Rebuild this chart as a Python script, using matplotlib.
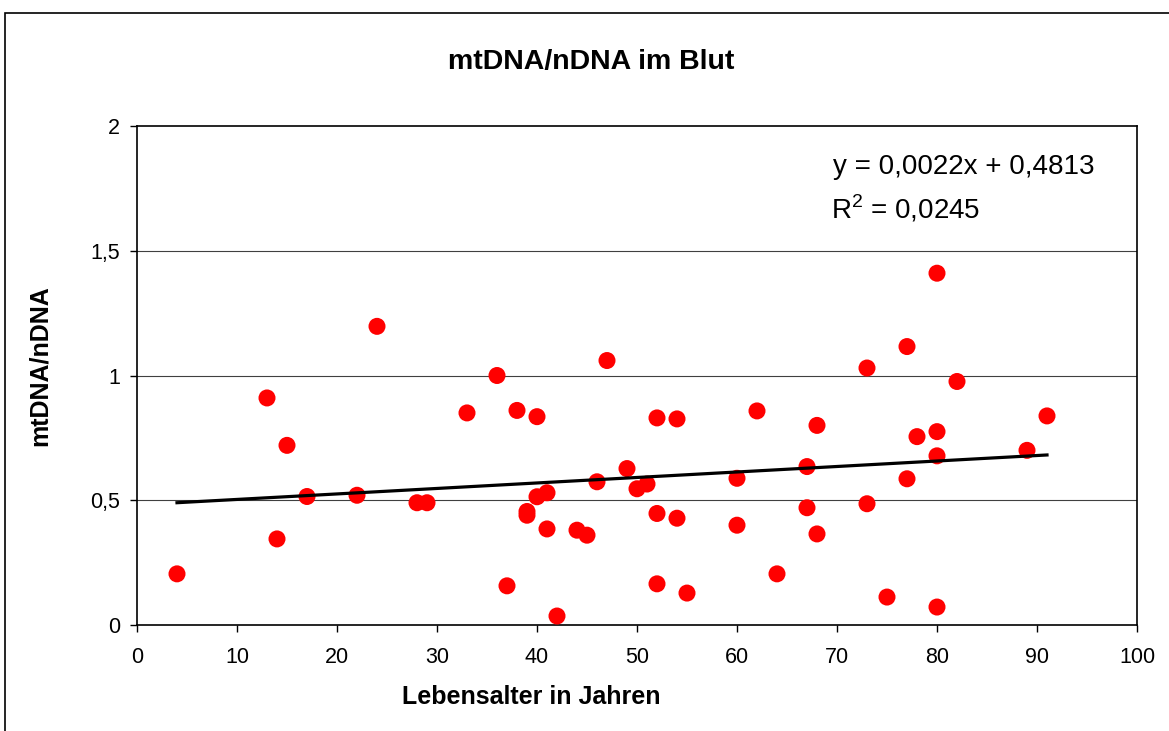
import matplotlib.pyplot as plt
from matplotlib.patches import Rectangle

# Lebensalter (Jahre) und mtDNA/nDNA
age = [4, 13, 14, 15, 17, 22, 24, 28, 29, 33, 36, 37, 38, 39, 39, 40, 40, 41, 41,
       42, 44, 45, 46, 47, 49, 50, 51, 52, 52, 52, 54, 54, 55, 60, 60, 62, 64,
       67, 67, 68, 68, 73, 73, 75, 77, 77, 78, 80, 80, 80, 80, 82, 89, 91]
ratio = [0.205, 0.91, 0.345, 0.72, 0.515, 0.52, 1.197, 0.49, 0.49, 0.85, 1.00,
         0.157, 0.86, 0.44, 0.455, 0.835, 0.514, 0.53, 0.385, 0.036, 0.38, 0.36,
         0.574, 1.06, 0.627, 0.546, 0.565, 0.83, 0.447, 0.165, 0.826, 0.428,
         0.128, 0.588, 0.40, 0.858, 0.205, 0.635, 0.47, 0.80, 0.365, 1.03, 0.486,
         0.112, 1.116, 0.586, 0.755, 1.41, 0.775, 0.678, 0.072, 0.976, 0.70, 0.838]

# Trendlinie (linear)
slope = 0.0022
intercept = 0.4813
r2 = 0.0245

xticks = [0, 10, 20, 30, 40, 50, 60, 70, 80, 90, 100]
yticks = [0, 0.5, 1, 1.5, 2]
yticklabels = ['0', '0,5', '1', '1,5', '2']


def de(v):
    return f'{v:.4f}'.replace('.', ',')


plt.rcParams['font.family'] = ['Liberation Sans', 'DejaVu Sans']
plt.rcParams['mathtext.fontset'] = 'custom'
plt.rcParams['mathtext.rm'] = 'Liberation Sans'

fig = plt.figure(figsize=(11.69, 7.31), dpi=100)
ax = fig.add_axes([137/1169, 1 - 625/731, 1000/1169, 499/731])

# outer chart frame
fig.patches.append(Rectangle((5/1169, -0.1), 1.2, 1 - 13/731 + 0.1,
                             transform=fig.transFigure, fill=False,
                             edgecolor='black', linewidth=1.2, clip_on=False))

for yv in yticks[1:-1]:
    ax.axhline(yv, color='#404040', linewidth=0.8, zorder=0)

ax.scatter(age, ratio, s=150, color='#ff0000', edgecolors='none', zorder=3)

x0, x1 = min(age), max(age)
ax.plot([x0, x1], [slope*x0 + intercept, slope*x1 + intercept],
        color='black', linewidth=2.3, zorder=4)

ax.set_xlim(0, 100)
ax.set_ylim(0, 2)
ax.set_xticks(xticks)
ax.set_yticks(yticks)
ax.set_yticklabels(yticklabels)
ax.tick_params(labelsize=15.5, direction='out', length=5, width=1)
ax.tick_params(axis='x', pad=11)
ax.tick_params(axis='y', pad=7)
for sp in ax.spines.values():
    sp.set_linewidth(1.2)
    sp.set_color('black')

ax.set_xlabel('Lebensalter in Jahren', fontsize=18, fontweight='bold', va='center')
ax.xaxis.set_label_coords(0.394, -0.145)
ax.set_ylabel('mtDNA/nDNA', fontsize=18, fontweight='bold', va='center')
ax.yaxis.set_label_coords(-0.097, 0.52)

fig.text(0.506, 1 - 62/731, 'mtDNA/nDNA im Blut', ha='center', va='center',
         fontsize=20.5, fontweight='bold')

ax.text(0.696, 0.918, f'y = {de(slope)}x + {de(intercept)}',
        transform=ax.transAxes, fontsize=20, va='center')
ax.text(0.694, 0.835, f'R$^2$ = {de(r2)}',
        transform=ax.transAxes, fontsize=20, va='center')

fig.savefig('out.png', dpi=100)
